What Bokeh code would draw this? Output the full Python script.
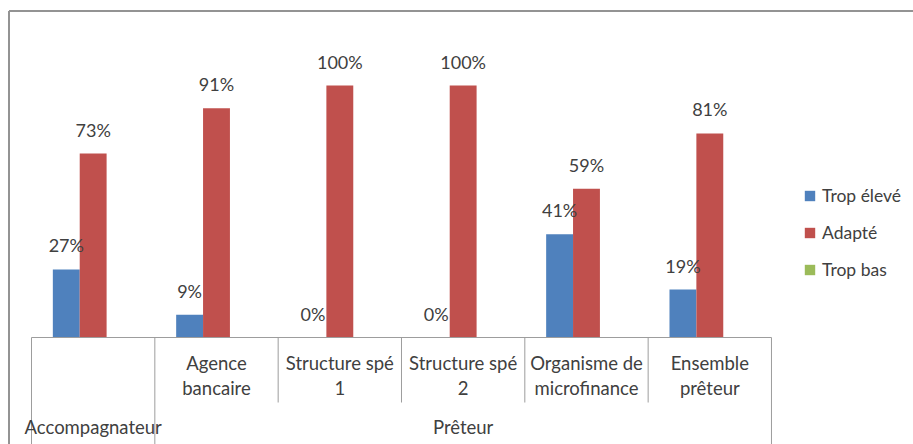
from bokeh.plotting import figure
from bokeh.models import ColumnDataSource, Range1d, Legend, LegendItem
from bokeh.transform import dodge
from bokeh.core.properties import value
from bokeh.embed import file_html
from bokeh.resources import INLINE

# ---------------- data ----------------
cat_line1 = ["", "Agence", "Structure spé", "Structure spé", "Organisme de", "Ensemble"]
cat_line2 = ["", "bancaire", "1", "2", "microfinance", "prêteur"]
cat_group = ["Accompagnateur", "Prêteur", "Prêteur", "Prêteur", "Prêteur", "Prêteur"]
series_names = ["Trop élevé", "Adapté", "Trop bas"]
trop_eleve = [27, 9, 0, 0, 41, 19]
adapte = [73, 91, 100, 100, 59, 81]
trop_bas = [None, None, None, None, None, None]

# ---------------- layout constants ----------------
W, H = 913, 444
CAT_PX = 123.33          # width of one category in px
CAT0_LEFT = 31           # px from figure left to first category edge
BASE_Y = 337             # px from figure top to baseline
PX_PER_UNIT = 2.52       # px per percentage point
BW = 0.218               # bar width in category units

FONT = "Lato"
TXT = "#404040"
AXIS = "#9d9d9d"
COLORS = ["#4F81BD", "#C0504D", "#9BBB59"]

x_start = -0.5 - CAT0_LEFT / CAT_PX
x_end = x_start + W / CAT_PX
y_end = BASE_Y / PX_PER_UNIT
y_start = y_end - H / PX_PER_UNIT


def px(v):
    return v / PX_PER_UNIT


def hx(v):
    return v / CAT_PX


n = len(cat_line1)
idx = list(range(n))
nan = float("nan")


def lab_y(vals):
    return [(v if v is not None else nan) + px(24) for v in vals]


def lab_t(vals):
    return ["%d%%" % v if v is not None else "" for v in vals]


src = ColumnDataSource(dict(
    idx=idx,
    te=trop_eleve,
    ad=adapte,
    tb=[v if v is not None else nan for v in trop_bas],
    te_y=lab_y(trop_eleve), te_t=lab_t(trop_eleve),
    ad_y=lab_y(adapte), ad_t=lab_t(adapte),
    tb_y=lab_y(trop_bas), tb_t=lab_t(trop_bas),
    l1=cat_line1, l2=cat_line2,
    l1_y=[-px(25.5)] * n, l2_y=[-px(50.5)] * n,
))

p = figure(width=W, height=H, output_backend="svg", toolbar_location=None,
           x_range=Range1d(x_start, x_end), y_range=Range1d(y_start, y_end),
           min_border=0, x_axis_location=None, y_axis_location=None,
           background_fill_color="white", border_fill_color="white")
p.xgrid.visible = False
p.ygrid.visible = False
p.outline_line_color = None

# chart border (top and left)
bx = x_start + hx(8.5)
by = y_end - px(10.5)
p.segment(x0=[bx], y0=[by], x1=[x_end], y1=[by], line_color="#939393", line_width=2)
p.segment(x0=[bx], y0=[y_start], x1=[bx], y1=[by], line_color="#939393", line_width=2)

# bars
offsets = [-BW, 0.0, BW]
cols = ["te", "ad", "tb"]
renderers = []
for off, c, col in zip(offsets, cols, COLORS):
    r = p.vbar(x=dodge("idx", off, range=p.x_range), top=c, bottom=0, width=BW,
               source=src, fill_color=col, line_color=None)
    renderers.append(r)

# data labels
for off, c in zip(offsets, cols):
    p.text(x=dodge("idx", off, range=p.x_range), y=c + "_y", text=c + "_t", source=src,
           text_align="center", text_baseline="middle",
           text_font=value(FONT), text_font_size="18px", text_color=TXT)

# category axis: baseline and separators
p.segment(x0=[-0.5], y0=[0], x1=[n - 0.5], y1=[0], line_color=AXIS, line_width=1)
groups = []
for i, g in enumerate(cat_group):
    if not groups or groups[-1][0] != g:
        groups.append([g, i, i])
    else:
        groups[-1][2] = i
full_b = sorted(set([gr[1] - 0.5 for gr in groups] + [gr[2] + 0.5 for gr in groups]))
short_b = [i - 0.5 for i in range(1, n) if (i - 0.5) not in full_b]
p.segment(x0=full_b, y0=[0] * len(full_b), x1=full_b, y1=[y_start] * len(full_b),
          line_color=AXIS, line_width=1)
p.segment(x0=short_b, y0=[0] * len(short_b), x1=short_b, y1=[-px(65)] * len(short_b),
          line_color=AXIS, line_width=1)

for col_t, col_y in (("l1", "l1_y"), ("l2", "l2_y")):
    p.text(x="idx", y=col_y, text=col_t, source=src, text_align="center",
           text_baseline="middle", text_font=value(FONT),
           text_font_size="18.5px", text_color=TXT)

p.text(x=[(gr[1] + gr[2]) / 2 for gr in groups], y=[-px(89.5)] * len(groups),
       text=[gr[0] for gr in groups], text_align="center", text_baseline="middle",
       text_font=value(FONT), text_font_size="18.5px", text_color=TXT)

# legend
legend = Legend(items=[LegendItem(label=nm, renderers=[r]) for nm, r in zip(series_names, renderers)],
                location=(803, 163), orientation="vertical",
                glyph_width=13, glyph_height=13, label_height=24, spacing=13,
                label_standoff=6, padding=0, margin=0,
                border_line_color=None, background_fill_alpha=0,
                label_text_font=FONT, label_text_font_size="17.5px", label_text_color=TXT)
p.add_layout(legend)

open("out.html", "w").write(file_html(p, INLINE))
